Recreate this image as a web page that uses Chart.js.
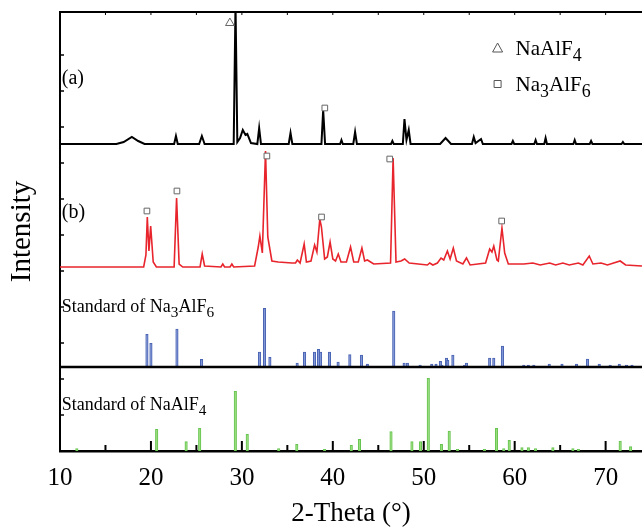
<!DOCTYPE html>
<html>
<head>
<meta charset="utf-8">
<script src="https://cdn.jsdelivr.net/npm/chart.js@4.4.1/dist/chart.umd.min.js"></script>
<style>
    html, body { margin: 0; padding: 0; background: #fff; }
    #wrap { width: 642px; height: 527px; }
</style>
</head>
<body>
<div id="wrap"><canvas id="xrd" width="642" height="527"></canvas></div>
<script>
/* Datos */
const thetaMin = 10;
const thetaMax = 74;
const thetaTicks = [10, 20, 30, 40, 50, 60, 70];

// (a) patrón negro: [2θ, intensidad sobre su línea base]
const patternA = [
    [10, 0], [16.2, 0], [17.0, 2], [17.9, 7], [18.6, 3], [19.3, 0],
    [22.55, 0], [22.75, 8], [22.95, 0], [25.3, 0], [25.6, 8], [25.9, 0],
    [29.1, 0], [29.3, 140], [29.5, 2], [29.8, 6], [30.1, 14], [30.4, 9], [30.6, 10], [31.0, 1],
    [31.7, 0], [31.9, 16], [32.1, 0], [35.15, 0], [35.35, 11], [35.55, 0],
    [38.75, 0], [38.94, 34], [39.15, 0], [40.8, 0], [40.95, 4], [41.1, 0],
    [42.25, 0], [42.45, 12], [42.65, 0], [46.4, 0], [46.55, 3], [46.7, 0],
    [47.7, 0], [47.88, 25], [48.1, 4], [48.35, 14], [48.55, 0], [51.8, 0], [52.4, 6], [53.0, 0],
    [55.3, 0], [55.5, 7], [55.7, 1], [56.3, 5], [56.5, 0], [59.65, 0], [59.8, 3], [59.95, 0],
    [62.15, 0], [62.3, 4], [62.45, 0], [63.25, 0], [63.4, 6], [63.55, 0],
    [66.45, 0], [66.6, 4], [66.75, 0], [68.25, 0], [68.4, 3], [68.55, 0],
    [71.75, 0], [71.9, 2], [72.05, 0], [74, 0]
];

// (b) patrón rojo
const patternB = [
    [10, 0], [19.2, 0], [19.45, 12], [19.6, 50], [19.78, 16], [19.97, 41], [20.25, 5], [20.6, 0],
    [22.55, 0], [22.82, 69], [23.1, 3], [23.5, 0], [25.4, 0], [25.64, 13], [25.9, 1],
    [27.7, 0], [27.9, 3], [28.1, 0], [28.7, 0], [28.9, 3], [29.1, 0],
    [31.4, 1], [31.8, 20], [31.98, 31], [32.25, 14], [32.6, 116], [32.85, 30], [33.0, 22], [33.3, 6],
    [34.0, 5], [35.5, 4], [35.9, 4], [36.1, 7], [36.4, 4], [36.85, 23], [37.1, 5], [37.6, 6],
    [38.0, 22], [38.25, 15], [38.57, 48], [38.75, 40], [39.1, 8], [39.4, 10], [39.7, 25], [40.0, 8],
    [40.3, 6], [40.6, 13], [40.9, 5], [41.5, 5], [41.95, 20], [42.3, 5], [42.8, 5], [43.2, 19],
    [43.5, 6], [43.8, 7], [44.5, 3], [46.35, 4], [46.63, 109], [46.95, 5], [47.5, 6], [47.9, 8],
    [48.4, 4], [50.4, 2], [50.66, 4], [51.0, 2], [51.5, 4], [51.9, 9], [52.2, 7], [52.6, 16],
    [52.9, 8], [53.25, 19], [53.6, 6], [54.3, 3], [54.7, 9], [55.1, 2], [56.8, 4], [57.25, 18],
    [57.5, 15], [57.7, 21], [58.05, 7], [58.2, 6], [58.6, 39], [58.9, 14], [59.3, 3], [61.0, 3],
    [62.0, 4], [62.8, 2], [63.85, 4], [64.5, 2], [65.3, 4], [66.0, 2], [67.0, 4], [67.5, 2],
    [68.2, 11], [68.6, 3], [69.5, 4], [70.2, 2], [71.6, 6], [72.2, 2], [74, 1]
];

// patrón estándar de Na3AlF6
const na3alf6Theta = [19.56, 20.0, 22.86, 25.57, 31.94, 32.49, 33.08, 36.08, 36.89, 37.99,
    38.43, 38.65, 39.63, 40.58, 41.87, 43.15, 43.8, 46.7, 47.84, 48.2, 49.6, 50.88, 51.35,
    51.83, 52.0, 52.5, 52.64, 53.2, 54.5, 54.7, 57.25, 57.7, 58.65, 61.0, 61.5, 62.1, 63.8,
    65.2, 66.8, 68.0, 69.3, 70.5, 71.5, 72.3, 72.9];
const na3alf6Int = [32.7, 23.7, 38, 7.7, 15, 58.7, 9.7, 4, 15, 15,
    17.7, 15, 15, 5, 12.3, 12, 3, 56, 4, 4, 2, 3, 3,
    5.7, 2, 9, 6.7, 12, 2, 4, 9, 9, 21, 2, 2, 2, 3,
    3, 3, 8, 3, 2, 3, 2, 2];

// patrón estándar de NaAlF4
const naalf4Theta = [11.85, 20.63, 23.87, 25.36, 29.28, 30.59, 34.05, 36.04, 39.1, 42.03,
    42.93, 46.4, 48.7, 49.64, 50.5, 51.94, 52.8, 53.7, 56.67, 58.0, 58.8, 59.4, 60.8, 61.5,
    62.3, 64.2, 66.4, 67.0, 71.6, 72.75];
const naalf4Int = [2.3, 21.7, 9.3, 22.7, 59.7, 16.7, 2.3, 6.7, 1.7, 5.7,
    11.7, 19.3, 9.3, 9.3, 72.7, 6.7, 20, 1.7, 1.7, 22.7, 2.3, 10.7, 3.3, 3.3,
    2.3, 3.3, 2.3, 1.7, 10, 4.3];

// marcas de fase (relativas a la línea base de cada patrón)
const markA_NaAlF4 = [[28.68, 121]];
const markA_Na3AlF6 = [[39.12, 36]];
const markB_Na3AlF6 = [[19.56, 56], [22.86, 76], [32.75, 111], [38.76, 50], [46.26, 108], [58.57, 46]];

/* Apilado de los paneles */
const baseA = 307;
const baseB = 184;
const baseNa3 = 84;
const baseNaAlF4 = 0;

const serif = "'Liberation Serif', 'Times New Roman', serif";

const shift = (pts, base) => pts.map(([x, y]) => ({ x, y: base + y }));
const sticks = (xs, hs, base) => xs.map((x, i) => ({ x, y: [base, base + hs[i]] }));

// textos con subíndices: [texto, esSubindice]
const notes = [
    { parts: [['(a)', 0]], x: 10.2, y: 367, size: 20 },
    { parts: [['(b)', 0]], x: 10.2, y: 233, size: 20 },
    { parts: [['Standard of Na', 0], ['3', 1], ['AlF', 0], ['6', 1]], x: 10.2, y: 139, size: 18 },
    { parts: [['Standard of NaAlF', 0], ['4', 1]], x: 10.2, y: 41, size: 18 },
    { parts: [['NaAlF', 0], ['4', 1]], x: 60.1, y: 396, size: 21, mark: 'triangle' },
    { parts: [['Na', 0], ['3', 1], ['AlF', 0], ['6', 1]], x: 60.1, y: 360, size: 21, mark: 'rect' }
];

function drawRich(ctx, parts, x, y, size) {
    let cx = x;
    parts.forEach(([txt, sub]) => {
        const s = sub ? size * 0.85 : size;
        ctx.font = `${s}px ${serif}`;
        ctx.fillText(txt, cx, sub ? y + size * 0.3 : y);
        cx += ctx.measureText(txt).width;
    });
}

const notesPlugin = {
    id: 'notes',
    afterDraw(chart) {
        const { ctx, scales: { x, y } } = chart;
        ctx.save();
        ctx.fillStyle = '#000';
        ctx.textBaseline = 'alphabetic';
        notes.forEach((n) => {
            const px = x.getPixelForValue(n.x);
            const py = y.getPixelForValue(n.y);
            drawRich(ctx, n.parts, px, py, n.size);
            if (n.mark) {
                const mx = px - 18;
                const my = py - 7;
                ctx.strokeStyle = '#555';
                ctx.lineWidth = 1;
                ctx.beginPath();
                if (n.mark === 'triangle') {
                    ctx.moveTo(mx - 5, my + 4);
                    ctx.lineTo(mx + 5, my + 4);
                    ctx.lineTo(mx, my - 5);
                    ctx.closePath();
                } else {
                    ctx.rect(mx - 3.5, my - 3.5, 7, 7);
                }
                ctx.stroke();
            }
        });
        ctx.restore();
    }
};

// marco: borde superior, separador y marcas hacia dentro
const framePlugin = {
    id: 'frame',
    afterDatasetsDraw(chart) {
        const { ctx, chartArea: a, scales: { x, y } } = chart;
        const line = (x1, y1, x2, y2) => {
            ctx.beginPath();
            ctx.moveTo(x1, y1);
            ctx.lineTo(x2, y2);
            ctx.stroke();
        };
        ctx.save();
        ctx.strokeStyle = '#000';

        ctx.lineWidth = 2;
        line(a.left, a.top, a.right, a.top);

        ctx.lineWidth = 2.5;
        const yd = y.getPixelForValue(baseNa3);
        line(a.left, yd, a.right, yd);

        ctx.lineWidth = 1.5;
        y.ticks.forEach((t) => {
            const py = y.getPixelForValue(t.value);
            line(a.left, py, a.left + 4, py);
        });

        for (let v = 10; v <= 70; v += 5) {
            const px = x.getPixelForValue(v);
            ctx.lineWidth = 2;
            line(px, a.bottom, px, a.bottom - (v % 10 === 0 ? 10 : 6));
            ctx.lineWidth = 1;
            line(px, a.top, px, a.top + 3);
        }
        ctx.restore();
    }
};

const markerStyle = {
    type: 'scatter',
    showLine: false,
    pointRadius: 4,
    pointBorderWidth: 1,
    pointBorderColor: '#666',
    pointBackgroundColor: '#fff'
};

new Chart(document.getElementById('xrd'), {
    type: 'line',
    data: {
        datasets: [
            { ...markerStyle, pointStyle: 'triangle', pointRadius: 5, data: shift(markA_NaAlF4, baseA) },
            { ...markerStyle, pointStyle: 'rect', data: shift(markA_Na3AlF6, baseA) },
            { ...markerStyle, pointStyle: 'rect', data: shift(markB_Na3AlF6, baseB) },
            {
                type: 'line',
                data: shift(patternA, baseA),
                borderColor: '#000',
                borderWidth: 2,
                pointRadius: 0,
                tension: 0
            },
            {
                type: 'line',
                data: shift(patternB, baseB),
                borderColor: '#e8242c',
                borderWidth: 1.6,
                pointRadius: 0,
                tension: 0
            },
            {
                type: 'bar',
                data: sticks(na3alf6Theta, na3alf6Int, baseNa3),
                backgroundColor: 'rgba(140, 160, 220, 0.75)',
                borderColor: '#4a64b4',
                borderWidth: 1,
                borderSkipped: false,
                barThickness: 2.5,
                grouped: false
            },
            {
                type: 'bar',
                data: sticks(naalf4Theta, naalf4Int, baseNaAlF4),
                backgroundColor: 'rgba(160, 225, 130, 0.85)',
                borderColor: '#66c450',
                borderWidth: 1,
                borderSkipped: false,
                barThickness: 2.5,
                grouped: false
            }
        ]
    },
    options: {
        responsive: false,
        animation: false,
        devicePixelRatio: 1,
        layout: { autoPadding: false, padding: { top: 12, right: 0, left: 0, bottom: 0 } },
        plugins: {
            legend: { display: false },
            tooltip: { enabled: false }
        },
        scales: {
            x: {
                type: 'linear',
                min: thetaMin,
                max: thetaMax,
                offset: false,
                grid: { display: false, offset: false },
                border: { color: '#000', width: 2.5 },
                ticks: {
                    autoSkip: false,
                    maxRotation: 0,
                    color: '#000',
                    padding: 4,
                    font: { family: serif, size: 25 }
                },
                afterBuildTicks: (scale) => {
                    scale.ticks = thetaTicks.map((v) => ({ value: v }));
                },
                title: {
                    display: true,
                    text: '2-Theta (°)',
                    color: '#000',
                    font: { family: serif, size: 27, lineHeight: 1 },
                    padding: { top: 0, bottom: 0 }
                },
                afterFit: (scale) => { scale.height = 76; }
            },
            y: {
                type: 'linear',
                min: 0,
                max: 439,
                grid: { display: false },
                border: { color: '#000', width: 2 },
                ticks: { display: false, stepSize: 36 },
                title: {
                    display: true,
                    text: 'Intensity',
                    color: '#000',
                    font: { family: serif, size: 29 },
                    padding: { top: 5, bottom: 0 }
                },
                afterFit: (scale) => { scale.width = 60; }
            }
        }
    },
    plugins: [framePlugin, notesPlugin]
});
</script>
</body>
</html>
